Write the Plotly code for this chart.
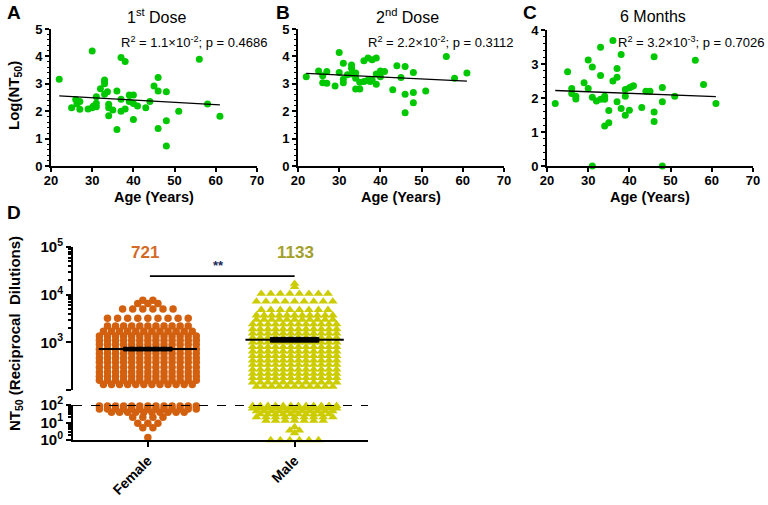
import plotly.graph_objects as go
import numpy as np

FONT = "Liberation Sans"

# ---------------- Panels A-C data ----------------
age_a = [22, 30, 25, 26, 26.3, 27, 27, 29, 30, 30.3, 31, 31, 31, 32, 33, 33, 33, 33, 33.7, 34, 34, 34, 35, 36, 36, 37, 38, 37, 37, 38, 39, 40, 39, 40, 41, 40, 43, 44, 45, 46, 46, 46, 48, 48, 48, 51, 56, 58, 61]
val_a = [3.17, 4.2, 2.13, 2.43, 2.26, 2.35, 2.07, 2.08, 2.13, 2.19, 2.16, 2.29, 2.53, 2.82, 3.07, 3.14, 3.0, 2.62, 2.71, 2.25, 1.83, 2.13, 2.04, 1.33, 2.74, 3.96, 3.81, 2.44, 2.0, 2.08, 2.59, 2.59, 2.35, 2.28, 2.19, 1.70, 2.13, 2.35, 2.92, 3.23, 2.74, 1.37, 2.71, 1.65, 0.73, 2.0, 3.9, 2.26, 1.82]
fit_a_x = [22, 61]
fit_a_y = [2.56, 2.23]

age_b = [22, 25, 26, 26, 27, 27, 29, 30, 30, 31, 31, 31, 32, 33, 33, 33, 34, 34, 34, 35, 35, 36, 36, 37, 37, 37.5, 38, 38, 39, 39, 39, 40, 40, 41, 43, 44, 45, 46, 46, 46, 48, 48, 48, 51, 56, 58, 61]
val_b = [3.26, 3.47, 3.29, 3.04, 3.02, 3.45, 2.92, 4.14, 3.41, 3.75, 3.17, 3.04, 3.33, 3.69, 3.57, 3.36, 3.39, 3.2, 2.81, 2.81, 3.06, 3.84, 3.08, 3.94, 3.14, 3.08, 3.88, 3.14, 3.94, 2.98, 3.36, 3.47, 3.26, 3.45, 2.78, 3.66, 3.23, 3.63, 2.62, 1.94, 3.41, 2.68, 2.31, 2.74, 4.0, 3.2, 3.39]
fit_b_x = [22, 61]
fit_b_y = [3.38, 3.10]

age_c = [22, 25, 26, 26, 27, 27, 29, 30, 30, 31, 31, 31, 32, 33, 33, 33, 34, 34, 34, 35, 35, 36, 36, 37, 37, 37, 38, 38, 39, 39, 39, 40, 40, 40.5, 41, 43, 44, 45, 46, 46, 46, 48, 48, 48, 51, 56, 58, 61]
val_c = [1.84, 2.77, 2.28, 2.13, 2.05, 1.97, 2.45, 3.12, 2.28, 2.91, 2.02, 0, 1.91, 3.49, 2.66, 1.96, 2.05, 1.96, 1.18, 1.63, 1.27, 3.69, 2.5, 2.87, 2.61, 1.89, 3.28, 1.69, 2.25, 2.05, 1.49, 2.3, 1.64, 2.33, 2.36, 1.72, 2.2, 2.2, 3.21, 1.59, 1.31, 2.31, 1.89, 0, 2.05, 3.11, 2.4, 1.84]
fit_c_x = [22, 61]
fit_c_y = [2.22, 2.04]

# ---------------- Panel D data (rows of the dot plot: NT50 value, count) ----------------
female_row_values = [7600, 6500, 5000, 3200, 2200, 1700, 1350, 1100, 900, 720, 580, 470, 380, 300, 240, 195, 160, 130,
                     89, 60, 38, 20, 9, 5, 1.4]
female_row_counts = [2, 3, 6, 9, 11, 12, 13, 13, 13, 13, 13, 13, 13, 13, 13, 13, 13, 12,
                     13, 13, 10, 4, 3, 2, 1]
male_row_values = [17000, 14500, 10500, 7200, 4800, 3700, 3000, 2400, 1900, 1550, 1250, 1000, 800, 650, 520, 420, 340,
                   270, 220, 180, 145, 118,
                   90, 65, 45, 30, 20, 13, 5.5, 3.5, 2.5, 1]
male_row_counts = [1, 1, 8, 9, 8, 11, 11, 12, 12, 12, 12, 12, 12, 12, 12, 12, 12,
                   12, 12, 12, 12, 11,
                   12, 12, 11, 10, 9, 7, 1, 2, 1, 6]
categories = ["Female", "Male"]
medians = [721, 1133]
sem_lo = [660, 1010]
sem_hi = [790, 1270]

GREEN = "#00c800"
ORANGE = "#d2600f"
YELLOW = "#cccc00"

fig = go.Figure()

W, H = 768, 505
def fx_(p):
    return p / W
def fy_(p):
    return 1 - p / H
def xd(a, b):
    return [fx_(a), fx_(b)]
def yd(top, bot):
    return [fy_(bot), fy_(top)]

panels = [
    ("x", "y", age_a, val_a, fit_a_x, fit_a_y, xd(51, 257), yd(29, 166), 5),
    ("x2", "y2", age_b, val_b, fit_b_x, fit_b_y, xd(298, 504), yd(29, 166), 5),
    ("x3", "y3", age_c, val_c, fit_c_x, fit_c_y, xd(547, 753), yd(30, 166), 4),
]

axis_common = dict(showline=True, linecolor="black", linewidth=2, ticks="outside", ticklen=4,
                   tickwidth=2, tickcolor="black", showgrid=False, zeroline=False, automargin=False,
                   tickfont=dict(family=FONT, size=13, color="black", weight="bold"))

layout = {}
for i, (xa, ya, ages, vals, fx, fy, xdom, ydom, ymax) in enumerate(panels):
    fig.add_trace(go.Scatter(x=ages, y=vals, mode="markers", xaxis=xa, yaxis=ya,
                             marker=dict(color=GREEN, size=7), cliponaxis=False, showlegend=False))
    fig.add_trace(go.Scatter(x=fx, y=fy, mode="lines", xaxis=xa, yaxis=ya,
                             line=dict(color="black", width=1.3), showlegend=False))
    xname = "xaxis" if i == 0 else f"xaxis{i+1}"
    yname = "yaxis" if i == 0 else f"yaxis{i+1}"
    layout[xname] = dict(axis_common, domain=xdom, range=[20, 70], dtick=10, anchor=ya,
                         ticklabelstandoff=-3)
    layout[yname] = dict(axis_common, domain=ydom, range=[0, ymax], dtick=1, anchor=xa,
                         minor=dict(ticks="outside", ticklen=2, tickwidth=1, dtick=0.2, tickcolor="black"))

# Panel D: dot-plot rows spread sideways around each category
def swarm(values, counts, center, spacing):
    xs, ys = [], []
    for v, n in zip(values, counts):
        s = spacing * (1.25 if n < 10 else 1.0)
        for k in range(n):
            xs.append(center + (k - (n - 1) / 2) * s)
            ys.append(v)
    return np.array(xs), np.array(ys)

for ci, (vals, cnts, col, sym, sz, sp) in enumerate([
        (female_row_values, female_row_counts, ORANGE, "circle", 7.5, 0.055),
        (male_row_values, male_row_counts, YELLOW, "triangle-up", 8.5, 0.052)]):
    xs, ys = swarm(vals, cnts, ci, sp)
    top = ys >= 100
    fig.add_trace(go.Scatter(x=xs[top], y=ys[top], mode="markers", xaxis="x4", yaxis="y5",
                             marker=dict(color=col, size=sz, symbol=sym), cliponaxis=False, showlegend=False))
    fig.add_trace(go.Scatter(x=xs[~top], y=ys[~top], mode="markers", xaxis="x4", yaxis="y4",
                             marker=dict(color=col, size=sz, symbol=sym), cliponaxis=False, showlegend=False))

for ci in range(2):
    fig.add_trace(go.Scatter(x=[ci - 0.335, ci + 0.335], y=[medians[ci]] * 2, mode="lines", xaxis="x4", yaxis="y5",
                             line=dict(color="black", width=2), showlegend=False))
    fig.add_trace(go.Scatter(x=[ci - 0.165, ci + 0.165, ci + 0.165, ci - 0.165, ci - 0.165],
                             y=[sem_lo[ci], sem_lo[ci], sem_hi[ci], sem_hi[ci], sem_lo[ci]],
                             mode="lines", fill="toself", fillcolor="black", xaxis="x4", yaxis="y5",
                             line=dict(color="black", width=1), showlegend=False))

layout["xaxis4"] = dict(axis_common, domain=xd(73, 368), range=[-0.51, 1.5], anchor="y4",
                        tickvals=[0, 1], ticktext=categories, tickangle=-45, ticklen=5,
                        tickfont=dict(family=FONT, size=14, color="black", weight="bold"))
dfont = dict(family=FONT, size=15, color="black", weight="bold")
layout["yaxis4"] = dict(axis_common, domain=yd(405, 440), type="log", range=[0, 2], anchor="x4",
                        tickvals=[1, 10, 100], ticktext=["10<sup>0</sup>", "10<sup>1</sup>", "10<sup>2</sup>"],
                        tickfont=dfont, ticklen=5,
                        minor=dict(ticks="outside", ticklen=3, tickwidth=1.5, tickcolor="black",
                                   tickvals=[2, 3, 4, 5, 6, 7, 8, 9, 20, 30, 40, 50, 60, 70, 80, 90]))
layout["yaxis5"] = dict(axis_common, domain=yd(247, 390), type="log", range=[2, 5], anchor="x4",
                        tickvals=[100, 1000, 10000, 100000],
                        ticktext=["", "10<sup>3</sup>", "10<sup>4</sup>", "10<sup>5</sup>"],
                        tickfont=dfont, ticklen=5,
                        minor=dict(ticks="outside", ticklen=3, tickwidth=1.5, tickcolor="black",
                                   tickvals=[2000, 3000, 4000, 5000, 6000, 7000, 8000, 9000,
                                             20000, 30000, 40000, 50000, 60000, 70000, 80000, 90000]))

shapes = [
    dict(type="line", xref="x4 domain", yref="y4", x0=0, x1=1, y0=100, y1=100,
         line=dict(color="black", width=1.8, dash="dash")),
    dict(type="line", xref="x4", yref="y5", x0=0.014, x1=1.0, y0=24500, y1=24500,
         line=dict(color="black", width=1.8)),
]

def ann(x, y, text, size=13, bold=False, color="black", xanchor="center", yanchor="middle", textangle=0):
    return dict(x=fx_(x), y=fy_(y), xref="paper", yref="paper", text=text, showarrow=False,
                xanchor=xanchor, yanchor=yanchor, textangle=textangle,
                font=dict(family=FONT, size=size, color=color, weight="bold" if bold else "normal"))

annotations = [
    ann(14, 12, "A", 19, True),
    ann(283, 12, "B", 19, True),
    ann(530, 12, "C", 19, True),
    ann(14, 213, "D", 19, True),
    ann(157, 16, "1<sup>st</sup> Dose", 16),
    ann(407, 16, "2<sup>nd</sup> Dose", 16),
    ann(653, 16, "6 Months", 16),
    ann(119, 42, "R<sup>2</sup> = 1.1×10<sup>-2</sup>; p = 0.4686", 13, xanchor="left"),
    ann(366, 42, "R<sup>2</sup> = 2.2×10<sup>-2</sup>; p = 0.3112", 13, xanchor="left"),
    ann(616, 42, "R<sup>2</sup> = 3.2×10<sup>-3</sup>; p = 0.7026", 13, xanchor="left"),
    ann(154, 197, "Age (Years)", 14.5, True),
    ann(401, 197, "Age (Years)", 14.5, True),
    ann(650, 197, "Age (Years)", 14.5, True),
    ann(15, 96, "Log(NT<sub>50</sub>)", 15, True, textangle=-90),
    ann(15, 334, "NT<sub>50</sub> (Reciprocal&nbsp; Dilutions)", 15, True, textangle=-90),
    ann(145, 252, "721", 17, True, color="#d46a28"),
    ann(295, 252, "1133", 17, True, color="#a3a02a"),
    ann(218, 265, "**", 13, True, color="#1a2a5a"),
]

fig.update_layout(width=W, height=H, margin=dict(l=0, r=0, t=0, b=0, autoexpand=False),
                  paper_bgcolor="white", plot_bgcolor="white",
                  shapes=shapes, annotations=annotations, **layout)
fig.write_html("out.html", config={"displayModeBar": False},
               post_script="document.body.style.margin='0px';document.body.style.overflow='hidden';")
